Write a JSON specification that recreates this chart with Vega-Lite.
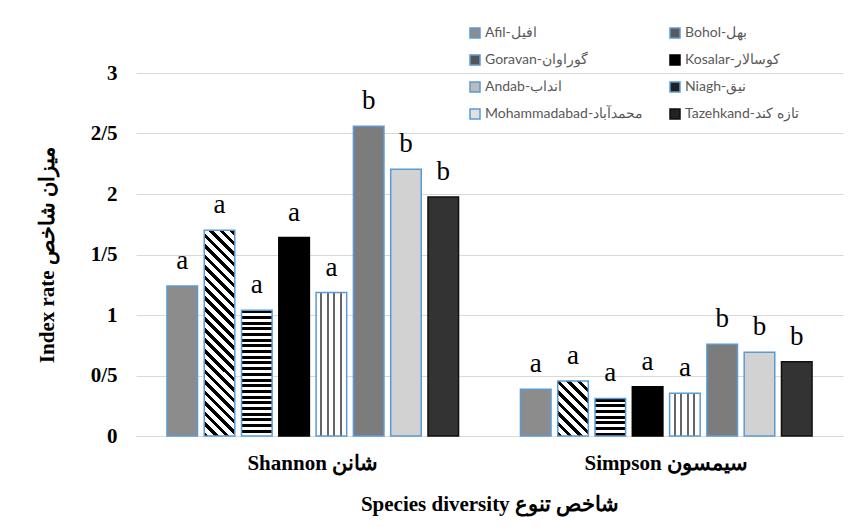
{
  "$schema": "https://vega.github.io/schema/vega-lite/v6.json",
  "autosize": {"type": "none"},
  "width": 707,
  "height": 363,
  "padding": {"left": 136, "top": 73, "right": 11, "bottom": 91},
  "background": "white",
  "config": {
    "view": {"stroke": null},
    "axis": {"labelFont": "Liberation Serif", "titleFont": "Liberation Serif", "labelFontWeight": "bold", "titleFontWeight": "bold", "labelFontSize": 21, "titleFontSize": 21, "labelColor": "#000000", "titleColor": "#000000"}
  },
  "data": {
    "values": [
      {"index": "Shannon شانن", "site": "Afil-افیل", "value": 1.24, "letter": "a"},
      {"index": "Shannon شانن", "site": "Bohol-بهل", "value": 1.70, "letter": "a"},
      {"index": "Shannon شانن", "site": "Goravan-گوراوان", "value": 1.04, "letter": "a"},
      {"index": "Shannon شانن", "site": "Kosalar-کوسالار", "value": 1.64, "letter": "a"},
      {"index": "Shannon شانن", "site": "Andab-انداب", "value": 1.185, "letter": "a"},
      {"index": "Shannon شانن", "site": "Niagh-نیق", "value": 2.56, "letter": "b"},
      {"index": "Shannon شانن", "site": "Mohammadabad-محمدآباد", "value": 2.205, "letter": "b"},
      {"index": "Shannon شانن", "site": "Tazehkand-تازه کند", "value": 1.975, "letter": "b"},
      {"index": "Simpson سیمسون", "site": "Afil-افیل", "value": 0.386, "letter": "a"},
      {"index": "Simpson سیمسون", "site": "Bohol-بهل", "value": 0.455, "letter": "a"},
      {"index": "Simpson سیمسون", "site": "Goravan-گوراوان", "value": 0.31, "letter": "a"},
      {"index": "Simpson سیمسون", "site": "Kosalar-کوسالار", "value": 0.408, "letter": "a"},
      {"index": "Simpson سیمسون", "site": "Andab-انداب", "value": 0.353, "letter": "a"},
      {"index": "Simpson سیمسون", "site": "Niagh-نیق", "value": 0.758, "letter": "b"},
      {"index": "Simpson سیمسون", "site": "Mohammadabad-محمدآباد", "value": 0.692, "letter": "b"},
      {"index": "Simpson سیمسون", "site": "Tazehkand-تازه کند", "value": 0.614, "letter": "b"}
    ]
  },
  "encoding": {
    "x": {
      "field": "index", "type": "nominal", "sort": null,
      "scale": {"paddingInner": 0, "paddingOuter": 0},
      "axis": {"labelAngle": 0, "ticks": false, "domainColor": "#d9d9d9", "labelPadding": 16, "title": "Species diversity  شاخص تنوع", "titlePadding": 20}
    },
    "xOffset": {
      "field": "site", "type": "nominal", "sort": null,
      "scale": {"paddingInner": 0.18, "paddingOuter": 0.83}
    },
    "y": {
      "field": "value", "type": "quantitative",
      "scale": {"domain": [0, 3], "nice": false},
      "axis": {"values": [0, 0.5, 1, 1.5, 2, 2.5, 3], "format": "~g", "labelExpr": "replace(datum.label, '.', '/')", "ticks": false, "domain": false, "gridColor": "#d9d9d9", "labelPadding": 19, "title": "Index rate  میزان شاخص", "titlePadding": 33}
    }
  },
  "layer": [
    {
      "mark": {"type": "bar", "strokeWidth": 1.5},
      "encoding": {
        "fill": {
          "field": "site", "type": "nominal",
          "scale": {
            "domain": ["Afil-افیل", "Goravan-گوراوان", "Andab-انداب", "Mohammadabad-محمدآباد", "Bohol-بهل", "Kosalar-کوسالار", "Niagh-نیق", "Tazehkand-تازه کند"],
            "range": ["#8c8c8c", "#555555", "#bbbbbb", "#e0e0e0", "#5a5a5a", "#000000", "#222222", "#222222"]
          },
          "legend": {
            "title": null, "orient": "none", "legendX": 332, "legendY": -47, "columns": 2, "columnPadding": 23,
            "symbolType": "square", "symbolSize": 100, "symbolStrokeWidth": 1.5, "labelOffset": 3,
            "labelFont": "Lato", "labelFontSize": 14, "labelColor": "#595959", "rowPadding": 11, "labelLimit": 300
          },
          "condition": [
            {"test": "datum.site==='Bohol-بهل' && datum.value>1", "value": {"gradient": "linear", "x1": 0, "y1": 1, "x2": 0.1667, "y2": -0.1237, "stops": [
              {"offset": 0, "color": "#000"}, {"offset": 0.02, "color": "#000"}, {"offset": 0.02, "color": "#fff"}, {"offset": 0.0443, "color": "#fff"},
              {"offset": 0.0443, "color": "#000"}, {"offset": 0.0643, "color": "#000"}, {"offset": 0.0643, "color": "#fff"}, {"offset": 0.0886, "color": "#fff"},
              {"offset": 0.0886, "color": "#000"}, {"offset": 0.1086, "color": "#000"}, {"offset": 0.1086, "color": "#fff"}, {"offset": 0.1329, "color": "#fff"},
              {"offset": 0.1329, "color": "#000"}, {"offset": 0.1529, "color": "#000"}, {"offset": 0.1529, "color": "#fff"}, {"offset": 0.1772, "color": "#fff"},
              {"offset": 0.1772, "color": "#000"}, {"offset": 0.1972, "color": "#000"}, {"offset": 0.1972, "color": "#fff"}, {"offset": 0.2215, "color": "#fff"},
              {"offset": 0.2215, "color": "#000"}, {"offset": 0.2415, "color": "#000"}, {"offset": 0.2415, "color": "#fff"}, {"offset": 0.2658, "color": "#fff"},
              {"offset": 0.2658, "color": "#000"}, {"offset": 0.2858, "color": "#000"}, {"offset": 0.2858, "color": "#fff"}, {"offset": 0.3101, "color": "#fff"},
              {"offset": 0.3101, "color": "#000"}, {"offset": 0.3301, "color": "#000"}, {"offset": 0.3301, "color": "#fff"}, {"offset": 0.3544, "color": "#fff"},
              {"offset": 0.3544, "color": "#000"}, {"offset": 0.3744, "color": "#000"}, {"offset": 0.3744, "color": "#fff"}, {"offset": 0.3987, "color": "#fff"},
              {"offset": 0.3987, "color": "#000"}, {"offset": 0.4187, "color": "#000"}, {"offset": 0.4187, "color": "#fff"}, {"offset": 0.443, "color": "#fff"},
              {"offset": 0.443, "color": "#000"}, {"offset": 0.463, "color": "#000"}, {"offset": 0.463, "color": "#fff"}, {"offset": 0.4873, "color": "#fff"},
              {"offset": 0.4873, "color": "#000"}, {"offset": 0.5073, "color": "#000"}, {"offset": 0.5073, "color": "#fff"}, {"offset": 0.5316, "color": "#fff"},
              {"offset": 0.5316, "color": "#000"}, {"offset": 0.5516, "color": "#000"}, {"offset": 0.5516, "color": "#fff"}, {"offset": 0.5759, "color": "#fff"},
              {"offset": 0.5759, "color": "#000"}, {"offset": 0.5959, "color": "#000"}, {"offset": 0.5959, "color": "#fff"}, {"offset": 0.6202, "color": "#fff"},
              {"offset": 0.6202, "color": "#000"}, {"offset": 0.6402, "color": "#000"}, {"offset": 0.6402, "color": "#fff"}, {"offset": 0.6645, "color": "#fff"},
              {"offset": 0.6645, "color": "#000"}, {"offset": 0.6845, "color": "#000"}, {"offset": 0.6845, "color": "#fff"}, {"offset": 0.7088, "color": "#fff"},
              {"offset": 0.7088, "color": "#000"}, {"offset": 0.7288, "color": "#000"}, {"offset": 0.7288, "color": "#fff"}, {"offset": 0.7531, "color": "#fff"},
              {"offset": 0.7531, "color": "#000"}, {"offset": 0.7731, "color": "#000"}, {"offset": 0.7731, "color": "#fff"}, {"offset": 0.7974, "color": "#fff"},
              {"offset": 0.7974, "color": "#000"}, {"offset": 0.8174, "color": "#000"}, {"offset": 0.8174, "color": "#fff"}, {"offset": 0.8417, "color": "#fff"},
              {"offset": 0.8417, "color": "#000"}, {"offset": 0.8617, "color": "#000"}, {"offset": 0.8617, "color": "#fff"}, {"offset": 0.886, "color": "#fff"},
              {"offset": 0.886, "color": "#000"}, {"offset": 0.906, "color": "#000"}, {"offset": 0.906, "color": "#fff"}, {"offset": 0.9303, "color": "#fff"},
              {"offset": 0.9303, "color": "#000"}, {"offset": 0.9503, "color": "#000"}, {"offset": 0.9503, "color": "#fff"}, {"offset": 0.9746, "color": "#fff"},
              {"offset": 0.9746, "color": "#000"}, {"offset": 0.9946, "color": "#000"}, {"offset": 0.9946, "color": "#fff"}, {"offset": 1, "color": "#fff"}
            ]}},
            {"test": "datum.site==='Bohol-بهل'", "value": {"gradient": "linear", "x1": 0, "y1": 1, "x2": 0.66, "y2": -0.1886, "stops": [
              {"offset": 0, "color": "#000"}, {"offset": 0.055, "color": "#000"}, {"offset": 0.055, "color": "#fff"}, {"offset": 0.1225, "color": "#fff"},
              {"offset": 0.1225, "color": "#000"}, {"offset": 0.1775, "color": "#000"}, {"offset": 0.1775, "color": "#fff"}, {"offset": 0.245, "color": "#fff"},
              {"offset": 0.245, "color": "#000"}, {"offset": 0.3, "color": "#000"}, {"offset": 0.3, "color": "#fff"}, {"offset": 0.3675, "color": "#fff"},
              {"offset": 0.3675, "color": "#000"}, {"offset": 0.4225, "color": "#000"}, {"offset": 0.4225, "color": "#fff"}, {"offset": 0.49, "color": "#fff"},
              {"offset": 0.49, "color": "#000"}, {"offset": 0.545, "color": "#000"}, {"offset": 0.545, "color": "#fff"}, {"offset": 0.6125, "color": "#fff"},
              {"offset": 0.6125, "color": "#000"}, {"offset": 0.6675, "color": "#000"}, {"offset": 0.6675, "color": "#fff"}, {"offset": 0.735, "color": "#fff"},
              {"offset": 0.735, "color": "#000"}, {"offset": 0.79, "color": "#000"}, {"offset": 0.79, "color": "#fff"}, {"offset": 0.8575, "color": "#fff"},
              {"offset": 0.8575, "color": "#000"}, {"offset": 0.9125, "color": "#000"}, {"offset": 0.9125, "color": "#fff"}, {"offset": 0.98, "color": "#fff"},
              {"offset": 0.98, "color": "#000"}, {"offset": 1, "color": "#000"}
            ]}},
            {"test": "datum.site==='Goravan-گوراوان' && datum.value>1", "value": {"gradient": "linear", "x1": 0, "y1": 0, "x2": 0, "y2": 1, "stops": [
              {"offset": 0, "color": "#000"}, {"offset": 0.024, "color": "#000"}, {"offset": 0.024, "color": "#fff"}, {"offset": 0.0453, "color": "#fff"},
              {"offset": 0.0453, "color": "#000"}, {"offset": 0.0693, "color": "#000"}, {"offset": 0.0693, "color": "#fff"}, {"offset": 0.0906, "color": "#fff"},
              {"offset": 0.0906, "color": "#000"}, {"offset": 0.1146, "color": "#000"}, {"offset": 0.1146, "color": "#fff"}, {"offset": 0.1359, "color": "#fff"},
              {"offset": 0.1359, "color": "#000"}, {"offset": 0.1599, "color": "#000"}, {"offset": 0.1599, "color": "#fff"}, {"offset": 0.1812, "color": "#fff"},
              {"offset": 0.1812, "color": "#000"}, {"offset": 0.2052, "color": "#000"}, {"offset": 0.2052, "color": "#fff"}, {"offset": 0.2265, "color": "#fff"},
              {"offset": 0.2265, "color": "#000"}, {"offset": 0.2505, "color": "#000"}, {"offset": 0.2505, "color": "#fff"}, {"offset": 0.2718, "color": "#fff"},
              {"offset": 0.2718, "color": "#000"}, {"offset": 0.2958, "color": "#000"}, {"offset": 0.2958, "color": "#fff"}, {"offset": 0.3171, "color": "#fff"},
              {"offset": 0.3171, "color": "#000"}, {"offset": 0.3411, "color": "#000"}, {"offset": 0.3411, "color": "#fff"}, {"offset": 0.3624, "color": "#fff"},
              {"offset": 0.3624, "color": "#000"}, {"offset": 0.3864, "color": "#000"}, {"offset": 0.3864, "color": "#fff"}, {"offset": 0.4077, "color": "#fff"},
              {"offset": 0.4077, "color": "#000"}, {"offset": 0.4317, "color": "#000"}, {"offset": 0.4317, "color": "#fff"}, {"offset": 0.453, "color": "#fff"},
              {"offset": 0.453, "color": "#000"}, {"offset": 0.477, "color": "#000"}, {"offset": 0.477, "color": "#fff"}, {"offset": 0.4983, "color": "#fff"},
              {"offset": 0.4983, "color": "#000"}, {"offset": 0.5223, "color": "#000"}, {"offset": 0.5223, "color": "#fff"}, {"offset": 0.5436, "color": "#fff"},
              {"offset": 0.5436, "color": "#000"}, {"offset": 0.5676, "color": "#000"}, {"offset": 0.5676, "color": "#fff"}, {"offset": 0.5889, "color": "#fff"},
              {"offset": 0.5889, "color": "#000"}, {"offset": 0.6129, "color": "#000"}, {"offset": 0.6129, "color": "#fff"}, {"offset": 0.6342, "color": "#fff"},
              {"offset": 0.6342, "color": "#000"}, {"offset": 0.6582, "color": "#000"}, {"offset": 0.6582, "color": "#fff"}, {"offset": 0.6795, "color": "#fff"},
              {"offset": 0.6795, "color": "#000"}, {"offset": 0.7035, "color": "#000"}, {"offset": 0.7035, "color": "#fff"}, {"offset": 0.7248, "color": "#fff"},
              {"offset": 0.7248, "color": "#000"}, {"offset": 0.7488, "color": "#000"}, {"offset": 0.7488, "color": "#fff"}, {"offset": 0.7701, "color": "#fff"},
              {"offset": 0.7701, "color": "#000"}, {"offset": 0.7941, "color": "#000"}, {"offset": 0.7941, "color": "#fff"}, {"offset": 0.8154, "color": "#fff"},
              {"offset": 0.8154, "color": "#000"}, {"offset": 0.8394, "color": "#000"}, {"offset": 0.8394, "color": "#fff"}, {"offset": 0.8607, "color": "#fff"},
              {"offset": 0.8607, "color": "#000"}, {"offset": 0.8847, "color": "#000"}, {"offset": 0.8847, "color": "#fff"}, {"offset": 0.906, "color": "#fff"},
              {"offset": 0.906, "color": "#000"}, {"offset": 0.93, "color": "#000"}, {"offset": 0.93, "color": "#fff"}, {"offset": 0.9513, "color": "#fff"},
              {"offset": 0.9513, "color": "#000"}, {"offset": 0.9753, "color": "#000"}, {"offset": 0.9753, "color": "#fff"}, {"offset": 1, "color": "#fff"}
            ]}},
            {"test": "datum.site==='Goravan-گوراوان'", "value": {"gradient": "linear", "x1": 0, "y1": 0, "x2": 0, "y2": 1, "stops": [
              {"offset": 0, "color": "#000"}, {"offset": 0.081, "color": "#000"}, {"offset": 0.081, "color": "#fff"}, {"offset": 0.152, "color": "#fff"},
              {"offset": 0.152, "color": "#000"}, {"offset": 0.233, "color": "#000"}, {"offset": 0.233, "color": "#fff"}, {"offset": 0.304, "color": "#fff"},
              {"offset": 0.304, "color": "#000"}, {"offset": 0.385, "color": "#000"}, {"offset": 0.385, "color": "#fff"}, {"offset": 0.456, "color": "#fff"},
              {"offset": 0.456, "color": "#000"}, {"offset": 0.537, "color": "#000"}, {"offset": 0.537, "color": "#fff"}, {"offset": 0.608, "color": "#fff"},
              {"offset": 0.608, "color": "#000"}, {"offset": 0.689, "color": "#000"}, {"offset": 0.689, "color": "#fff"}, {"offset": 0.76, "color": "#fff"},
              {"offset": 0.76, "color": "#000"}, {"offset": 0.841, "color": "#000"}, {"offset": 0.841, "color": "#fff"}, {"offset": 0.912, "color": "#fff"},
              {"offset": 0.912, "color": "#000"}, {"offset": 0.993, "color": "#000"}, {"offset": 0.993, "color": "#fff"}, {"offset": 1, "color": "#fff"}
            ]}},
            {"test": "datum.site==='Andab-انداب'", "value": {"gradient": "linear", "x1": 0, "y1": 0, "x2": 1, "y2": 0, "stops": [
              {"offset": 0, "color": "#fff"}, {"offset": 0.14, "color": "#fff"}, {"offset": 0.14, "color": "#666"}, {"offset": 0.2, "color": "#666"},
              {"offset": 0.2, "color": "#fff"}, {"offset": 0.35, "color": "#fff"}, {"offset": 0.35, "color": "#666"}, {"offset": 0.41, "color": "#666"},
              {"offset": 0.41, "color": "#fff"}, {"offset": 0.56, "color": "#fff"}, {"offset": 0.56, "color": "#666"}, {"offset": 0.62, "color": "#666"},
              {"offset": 0.62, "color": "#fff"}, {"offset": 0.78, "color": "#fff"}, {"offset": 0.78, "color": "#666"}, {"offset": 0.84, "color": "#666"},
              {"offset": 0.84, "color": "#fff"}, {"offset": 1, "color": "#fff"}
            ]}},
            {"test": "datum.site==='Niagh-نیق'", "value": "#7c7c7c"},
            {"test": "datum.site==='Mohammadabad-محمدآباد'", "value": "#d2d2d2"},
            {"test": "datum.site==='Tazehkand-تازه کند'", "value": "#333333"}
          ]
        },
        "stroke": {
          "field": "site", "type": "nominal",
          "scale": {
            "domain": ["Afil-افیل", "Goravan-گوراوان", "Andab-انداب", "Mohammadabad-محمدآباد", "Bohol-بهل", "Kosalar-کوسالار", "Niagh-نیق", "Tazehkand-تازه کند"],
            "range": ["#5b9bd5", "#5b9bd5", "#5b9bd5", "#5b9bd5", "#5b9bd5", "#000000", "#5b9bd5", "#111111"]
          },
          "legend": {
            "title": null, "orient": "none", "legendX": 332, "legendY": -47, "columns": 2, "columnPadding": 23,
            "symbolType": "square", "symbolSize": 100, "symbolStrokeWidth": 1.5, "labelOffset": 3,
            "labelFont": "Lato", "labelFontSize": 14, "labelColor": "#595959", "rowPadding": 11, "labelLimit": 300
          }
        }
      }
    },
    {
      "mark": {"type": "text", "baseline": "alphabetic", "dy": -17, "font": "Liberation Serif", "fontSize": 27, "color": "#000000"},
      "encoding": {
        "text": {"field": "letter"}
      }
    }
  ]
}
